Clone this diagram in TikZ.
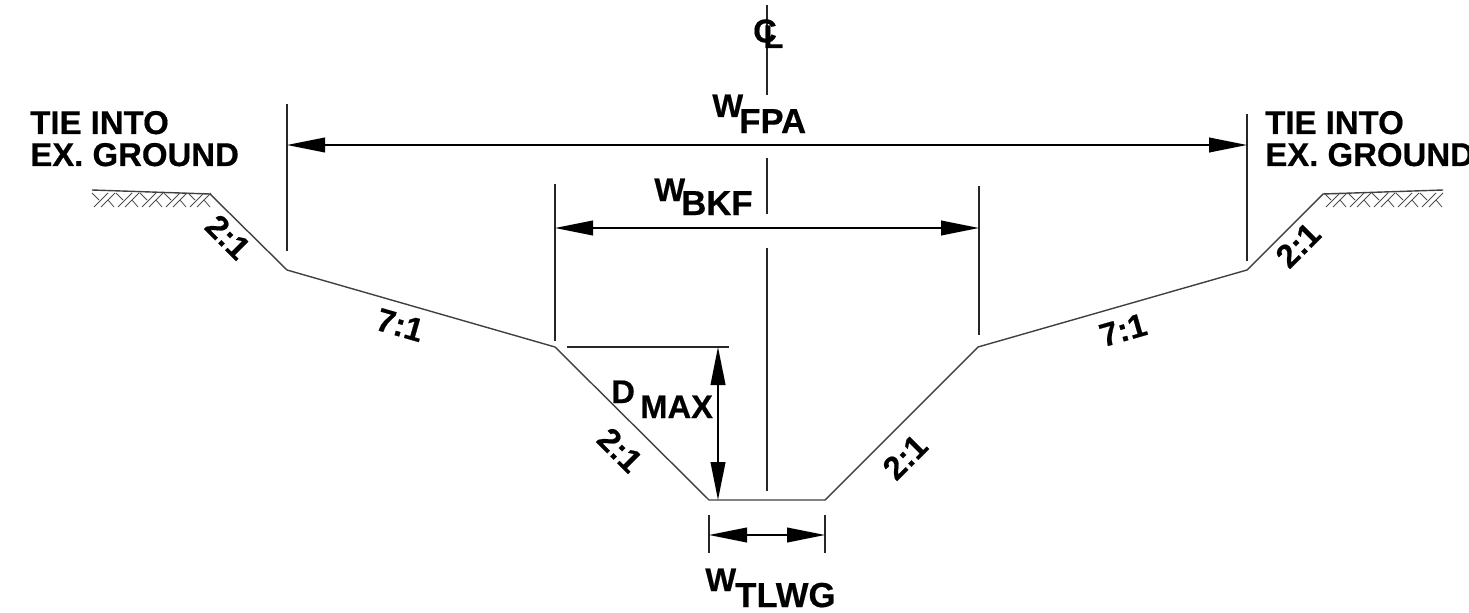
\documentclass[tikz,border=0pt]{standalone}
\usepackage{fontspec}
\setmainfont{Liberation Sans}[BoldFeatures={FakeBold=0.5}]
\usetikzlibrary{arrows.meta}
\tikzset{every picture/.style={line width=0.5pt}}
\tikzset{
  grade/.style={draw=black!75,line width=1.05pt,line join=round},
  dimline/.style={draw=black,line width=1.4pt},
  extline/.style={draw=black!85,line width=1.4pt},
  dimarrow/.style={dimline,{Triangle[length=28.5pt,width=11pt]}-{Triangle[length=28.5pt,width=11pt]}},
  hatch/.style={draw=black!70,line width=0.6pt},
  lbl/.style={font=\bfseries\fontsize{24.5}{24.5}\selectfont,inner sep=0pt,text=black},
  sublbl/.style={font=\bfseries\fontsize{26}{26}\selectfont,inner sep=0pt,text=black},
  note/.style={font=\bfseries\fontsize{24.7}{24}\selectfont,inner sep=0pt,align=left,anchor=base west,text=black},
}
\begin{document}
\begin{tikzpicture}[x=0.75pt,y=0.75pt,yscale=-1]
  \useasboundingbox (0,0) rectangle (1469,613);

  %grade points
  \coordinate (GroundL) at (92,190);
  \coordinate (TopL) at (210,194);
  \coordinate (ToeL) at (287,270);
  \coordinate (BkfL) at (555,347);
  \coordinate (BedL) at (709,500);
  \coordinate (BedR) at (825,500);
  \coordinate (BkfR) at (978,347);
  \coordinate (ToeR) at (1247,270);
  \coordinate (TopR) at (1323,194);
  \coordinate (GroundR) at (1443,190);
  \draw [grade] (GroundL) -- (TopL) -- (ToeL) -- (BkfL) -- (BedL) -- (BedR) -- (BkfR) -- (ToeR) -- (TopR) -- (GroundR);

  %hatching
  \foreach \hx in {0,24,48,72,96} {
    \draw [hatch] (94+\hx,207) -- (108+\hx,193);
    \draw [hatch] (101+\hx,207) -- (115+\hx,193);
    \draw [hatch] (92+\hx,193) -- (99+\hx,200);
    \draw [hatch] (108+\hx,200) -- (114+\hx,207);
    \draw [hatch] (1326+\hx,207) -- (1340+\hx,193);
    \draw [hatch] (1333+\hx,207) -- (1347+\hx,193);
    \draw [hatch] (1324+\hx,193) -- (1331+\hx,200);
    \draw [hatch] (1340+\hx,200) -- (1346+\hx,207);
  }

  %center line
  \coordinate (Cl0) at (767,5);
  \coordinate (Cl1) at (767,95);
  \coordinate (Cl2) at (767,158);
  \coordinate (Cl3) at (767,214);
  \coordinate (Cl4) at (767,248);
  \coordinate (Cl5) at (767,491);
  \draw [extline] (Cl0) -- (Cl1);
  \draw [extline] (Cl2) -- (Cl3);
  \draw [extline] (Cl4) -- (Cl5);
  \node [lbl] (ClC) at (765,31) {C};
  \node [lbl,anchor=base west] (ClL) at (763,48) {L};

  %extension lines
  \coordinate (FpaLt) at (287,104);
  \coordinate (FpaLb) at (287,251);
  \coordinate (FpaRt) at (1247,114);
  \coordinate (FpaRb) at (1247,261);
  \coordinate (BkfLt) at (555,184);
  \coordinate (BkfLb) at (555,341);
  \coordinate (BkfRt) at (979,186);
  \coordinate (BkfRb) at (979,335);
  \coordinate (MaxT) at (567,347);
  \coordinate (MaxE) at (729,347);
  \coordinate (TlwLt) at (709,515);
  \coordinate (TlwLb) at (709,553);
  \coordinate (TlwRt) at (825,515);
  \coordinate (TlwRb) at (825,553);
  \foreach \a/\b in {FpaLt/FpaLb,FpaRt/FpaRb,BkfLt/BkfLb,BkfRt/BkfRb,MaxT/MaxE,TlwLt/TlwLb,TlwRt/TlwRb}
    \draw [extline] (\a) -- (\b);

  %dimensions
  \coordinate (FpaA) at (287,145);
  \coordinate (FpaB) at (1247,145);
  \coordinate (BkfA) at (555,228);
  \coordinate (BkfB) at (979,228);
  \coordinate (MaxA) at (718,347);
  \coordinate (MaxB) at (718,500);
  \coordinate (TlwA) at (709,535);
  \coordinate (TlwB) at (825,535);
  \foreach \a/\b in {FpaA/FpaB,BkfA/BkfB,MaxA/MaxB,TlwA/TlwB}
    \draw [dimarrow] (\a) -- (\b);

  %labels
  \node [note] (TieL) at (30,166) {TIE INTO\\EX. GROUND};
  \node [note] (TieR) at (1265,166) {TIE INTO\\EX. GROUND};
  \node [lbl,anchor=base west] (Wfpa) at (712,117) {W};
  \node [sublbl,anchor=base west] (WfpaS) at (739,133) {FPA};
  \node [lbl,anchor=base west] (Wbkf) at (654,201) {W};
  \node [sublbl,anchor=base west] (WbkfS) at (681,215) {BKF};
  \node [lbl,anchor=base west] (Wtlw) at (705,591) {W};
  \node [sublbl,anchor=base west] (WtlwS) at (735,607) {TLWG};
  \node [lbl,anchor=base west] (Dm) at (611,403) {D};
  \node [lbl,anchor=base west] (DmS) at (640,418) {MAX};

  %slope labels
  \node [lbl,rotate=-45] (SlopeA) at (228,237) {2:1};
  \node [lbl,rotate=45] (SlopeB) at (1298,245) {2:1};
  \node [lbl,rotate=-16] (SlopeC) at (400,325) {7:1};
  \node [lbl,rotate=16] (SlopeD) at (1123,330) {7:1};
  \node [lbl,rotate=-45] (SlopeE) at (620,450) {2:1};
  \node [lbl,rotate=45] (SlopeF) at (905,457) {2:1};
\end{tikzpicture}
\end{document}
